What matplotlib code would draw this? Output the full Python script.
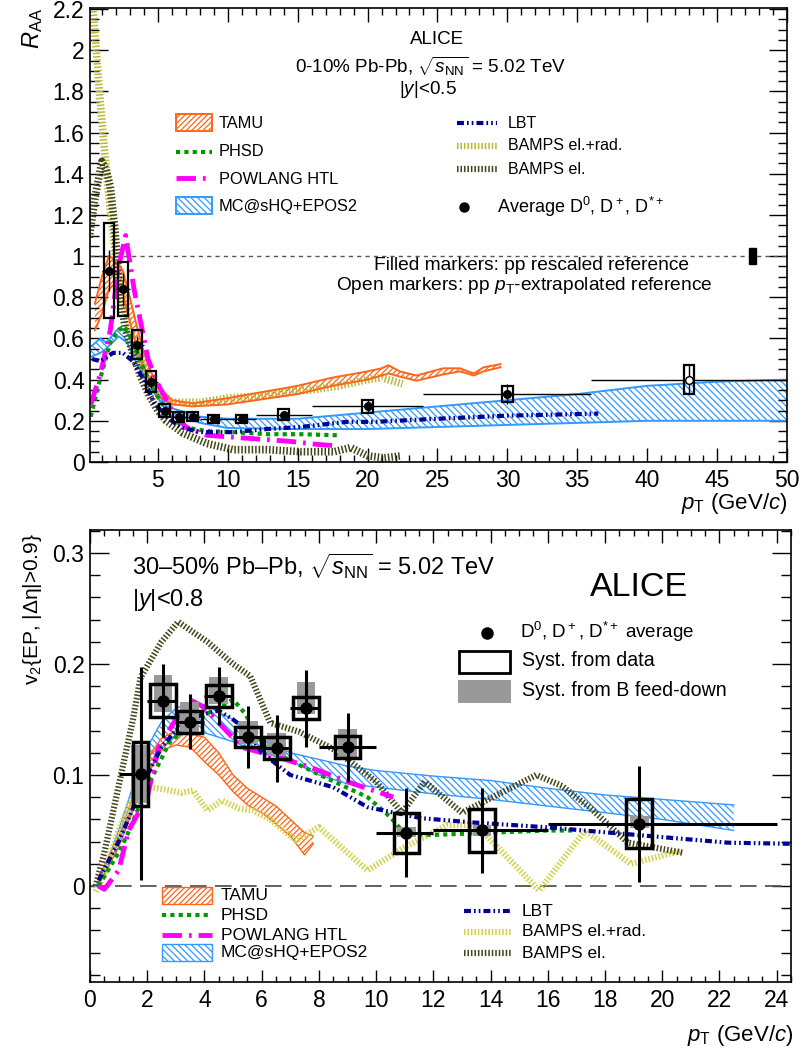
import matplotlib
matplotlib.use("Agg")
import matplotlib.pyplot as plt
from matplotlib.patches import Rectangle
from matplotlib.lines import Line2D
from matplotlib.ticker import MultipleLocator

plt.rcParams["font.family"] = ["Liberation Sans", "DejaVu Sans"]
plt.rcParams["mathtext.fontset"] = "custom"
plt.rcParams["mathtext.rm"] = "Liberation Sans"
plt.rcParams["mathtext.it"] = "Liberation Sans:italic"
plt.rcParams["mathtext.bf"] = "Liberation Sans:bold"
plt.rcParams["hatch.linewidth"] = 0.9
plt.rcParams["lines.scale_dashes"] = False

W, H = 802, 1050

# ---------------- R_AA, 0-10% ----------------
raa_pt = [1.5, 2.5, 3.5, 4.5, 5.5, 6.5, 7.5, 9, 11, 14, 20, 30, 43]
raa_lo = [1, 2, 3, 4, 5, 6, 7, 8, 10, 12, 16, 24, 36]
raa_hi = [2, 3, 4, 5, 6, 7, 8, 10, 12, 16, 24, 36, 50]
raa_val = [0.93, 0.84, 0.57, 0.39, 0.25, 0.22, 0.22, 0.21, 0.21, 0.23, 0.27, 0.33, 0.40]
raa_stat = [0.10, 0.08, 0.04, 0.03, 0.02, 0.015, 0.015, 0.015, 0.015, 0.02, 0.03, 0.05, 0.07]
raa_syst = [0.23, 0.13, 0.07, 0.05, 0.03, 0.025, 0.022, 0.02, 0.02, 0.025, 0.03, 0.04, 0.07]
raa_open = [False] * 12 + [True]
raa_norm = 0.04

tamu_raa_x = [0.5, 1.0, 1.5, 2.0, 2.5, 3.0, 3.5, 4.0, 4.5, 5.0, 6.0, 7.5, 10, 12.5, 15, 17.5,
              20, 21, 21.5, 22.3, 23.5, 25.4, 26.6, 27.6, 28.3, 29.5]
tamu_raa_hi = [0.77, 0.90, 1.00, 0.98, 0.93, 0.80, 0.66, 0.53, 0.44, 0.37, 0.30, 0.285, 0.31, 0.34,
               0.37, 0.41, 0.44, 0.455, 0.47, 0.44, 0.42, 0.455, 0.455, 0.43, 0.46, 0.475]
tamu_raa_lo = [0.64, 0.72, 0.84, 0.87, 0.82, 0.68, 0.56, 0.46, 0.38, 0.32, 0.28, 0.27, 0.28, 0.305,
               0.33, 0.37, 0.40, 0.42, 0.43, 0.415, 0.395, 0.425, 0.44, 0.42, 0.44, 0.46]

mcshq_raa_x = [0.2, 0.9, 1.3, 2.2, 2.8, 3.7, 4.7, 5.6, 8, 10, 15, 20, 25, 30, 35, 40, 45, 50]
mcshq_raa_hi = [0.56, 0.60, 0.58, 0.65, 0.63, 0.50, 0.37, 0.27, 0.22, 0.21, 0.21, 0.24, 0.27, 0.30,
                0.33, 0.37, 0.39, 0.40]
mcshq_raa_lo = [0.51, 0.53, 0.55, 0.61, 0.58, 0.45, 0.34, 0.25, 0.19, 0.165, 0.16, 0.16, 0.17, 0.18,
                0.19, 0.20, 0.20, 0.20]

phsd_raa_x = [0.2, 0.9, 1.6, 2.2, 2.6, 3.2, 4.0, 4.7, 5.6, 6.8, 8.5, 10.4, 12.8, 15.2, 17.8]
phsd_raa_y = [0.22, 0.41, 0.58, 0.64, 0.66, 0.59, 0.45, 0.35, 0.25, 0.17, 0.15, 0.145, 0.135, 0.135, 0.13]

powlang_raa_x = [0.2, 0.9, 1.6, 2.2, 2.7, 3.3, 4.3, 5.0, 6.0, 7.0, 8.5, 10.5, 12.5, 14.5, 16.5, 17.5]
powlang_raa_y = [0.28, 0.43, 0.64, 0.95, 1.10, 0.84, 0.50, 0.38, 0.25, 0.17, 0.13, 0.12, 0.11, 0.10,
                 0.085, 0.08]

lbt_raa_x = [0.3, 0.9, 1.8, 2.5, 3.2, 4.0, 4.7, 5.6, 6.6, 8, 10.4, 12.8, 15.2, 18.5, 20.5, 25, 30, 36.5]
lbt_raa_y = [0.50, 0.49, 0.53, 0.53, 0.49, 0.40, 0.29, 0.22, 0.17, 0.145, 0.145, 0.16, 0.17, 0.195,
             0.195, 0.21, 0.225, 0.235]

bampsr_raa_x = [0.37, 0.6, 0.87, 1.1, 1.37, 1.6, 1.8, 2.0, 2.5, 3.0, 3.5, 4.0, 4.5, 5.0, 6.0, 8.0,
                10, 12, 14, 16, 18, 20, 21, 22, 22.5]
bampsr_raa_y = [2.19, 2.0, 1.76, 1.58, 1.38, 1.22, 1.11, 0.98, 0.78, 0.64, 0.54, 0.46, 0.40, 0.35,
                0.29, 0.29, 0.31, 0.32, 0.34, 0.35, 0.37, 0.40, 0.41, 0.39, 0.38]

bampse_raa_x = [0.1, 0.5, 1.0, 1.3, 1.6, 1.93, 2.3, 2.7, 3.2, 3.8, 4.4, 5.0, 5.6, 6.8, 8.5, 10.4,
                12.8, 15.2, 17.6, 18.8, 20, 21.2, 22.4]
bampse_raa_y = [1.09, 1.28, 1.46, 1.42, 1.34, 1.13, 0.80, 0.64, 0.53, 0.41, 0.32, 0.25, 0.20, 0.14,
                0.09, 0.06, 0.06, 0.05, 0.05, 0.07, 0.03, 0.02, 0.03]

# ---------------- v2, 30-50% ----------------
v2_pt = [1.77, 2.55, 3.48, 4.5, 5.53, 6.53, 7.55, 9.0, 11.06, 13.7, 19.2]
v2_lo = [1, 2, 3, 4, 5, 6, 7, 8, 10, 12, 16]
v2_hi = [2, 3, 4, 5, 6, 7, 8, 10, 12, 16, 24]
v2_val = [0.101, 0.167, 0.148, 0.171, 0.134, 0.124, 0.160, 0.125, 0.048, 0.050, 0.056]
v2_stat = [0.096, 0.033, 0.025, 0.026, 0.028, 0.030, 0.035, 0.031, 0.040, 0.038, 0.052]
v2_syst = [0.029, 0.015, 0.010, 0.010, 0.009, 0.010, 0.010, 0.010, 0.018, 0.019, 0.022]
v2_fd_lo = [0.026, 0.010, 0.010, 0.007, 0.006, 0.007, 0.005, 0.009, 0.004, 0.005, 0.004]
v2_fd_hi = [0.026, 0.023, 0.018, 0.017, 0.015, 0.014, 0.024, 0.016, 0.005, 0.005, 0.007]
v2_boxw = [0.27, 0.45, 0.45, 0.45, 0.45, 0.45, 0.45, 0.45, 0.45, 0.45, 0.45]

tamu_v2_x = [0.3, 1.0, 1.5, 2.0, 2.5, 3.0, 3.5, 4.0, 4.5, 5.0, 5.5, 6.0, 6.5, 7.0, 7.5, 7.8]
tamu_v2_hi = [0.008, 0.045, 0.08, 0.115, 0.133, 0.140, 0.137, 0.134, 0.12, 0.10, 0.088, 0.08, 0.072,
              0.06, 0.048, 0.045]
tamu_v2_lo = [0.0, 0.035, 0.068, 0.10, 0.122, 0.127, 0.125, 0.112, 0.10, 0.085, 0.073, 0.066, 0.056,
              0.045, 0.028, 0.038]

mcshq_v2_x = [0.2, 0.5, 1.0, 1.5, 2.0, 2.5, 3.0, 3.5, 4.0, 5.0, 6.0, 7.0, 8.0, 9.0, 10, 12, 14, 16,
              18, 20, 22.5]
mcshq_v2_hi = [0.0, 0.015, 0.05, 0.09, 0.125, 0.148, 0.16, 0.165, 0.163, 0.15, 0.132, 0.12, 0.114,
               0.108, 0.104, 0.099, 0.095, 0.088, 0.082, 0.078, 0.073]
mcshq_v2_lo = [0.0, 0.01, 0.04, 0.07, 0.10, 0.125, 0.135, 0.138, 0.138, 0.13, 0.12, 0.113, 0.10,
               0.092, 0.089, 0.083, 0.078, 0.072, 0.066, 0.06, 0.05]

phsd_v2_x = [0.3, 1.0, 1.3, 2.0, 2.77, 3.2, 4.15, 5.0, 5.4, 6.1, 7.0, 8.2, 9.7, 10.5, 11.0, 12, 14,
             16, 17]
phsd_v2_y = [0.0, 0.03, 0.046, 0.089, 0.129, 0.139, 0.156, 0.168, 0.156, 0.125, 0.113, 0.098, 0.08,
             0.062, 0.047, 0.046, 0.048, 0.05, 0.05]

powlang_v2_x = [0.3, 0.5, 1.0, 1.35, 2.0, 2.4, 3.0, 3.55, 4.0, 5.3, 6.7, 7.7, 9.1, 10.6]
powlang_v2_y = [0.0, -0.003, 0.014, 0.05, 0.08, 0.125, 0.15, 0.167, 0.161, 0.125, 0.115, 0.107,
                0.093, 0.08]

lbt_v2_x = [0.3, 1.0, 1.5, 2.0, 2.5, 3.0, 3.5, 4.0, 4.5, 5.0, 5.5, 6.0, 6.5, 7.0, 8.5, 9.7, 11.6,
            13.5, 15.9, 19.1, 22.3, 24.5]
lbt_v2_y = [0.005, 0.04, 0.07, 0.10, 0.125, 0.14, 0.15, 0.155, 0.158, 0.15, 0.14, 0.12, 0.11, 0.10,
            0.089, 0.071, 0.061, 0.057, 0.053, 0.046, 0.039, 0.038]

bampsr_v2_x = [0.2, 0.5, 1.0, 1.5, 2.1, 2.6, 3.2, 3.6, 4.1, 4.6, 5.2, 5.7, 6.3, 7.2, 8.0, 9.7, 11,
               12.5, 13.5, 15.7, 17.3, 18.9, 20.7]
bampsr_v2_y = [-0.005, 0.01, 0.05, 0.08, 0.089, 0.087, 0.084, 0.086, 0.068, 0.077, 0.07, 0.068, 0.06,
               0.041, 0.053, 0.014, 0.035, 0.055, 0.055, -0.004, 0.05, 0.02, 0.032]

bampse_v2_x = [0.2, 0.5, 1.0, 1.5, 1.77, 2.5, 3.08, 4.1, 5.0, 5.6, 6.3, 7.3, 8.6, 10.0, 10.9, 11.7,
               13.0, 15.6, 16.5, 17.5, 18.8, 20.7]
bampse_v2_y = [0.0, 0.03, 0.09, 0.15, 0.188, 0.22, 0.238, 0.22, 0.2, 0.189, 0.147, 0.139, 0.122,
               0.094, 0.066, 0.094, 0.066, 0.10, 0.09, 0.07, 0.039, 0.03]

# ---------------- styles ----------------
C_TAMU = "#ff6619"
C_PHSD = "#009900"
C_POW = "#ff00ff"
C_MC = "#3399ff"
C_LBT = "#000099"
C_BR = "#b8b83a"
C_BR2 = "#d2d24a"
C_BE = "#444418"

style = {
    "phsd": dict(color=C_PHSD, lw=3.0, dashes=(3, 3), solid_capstyle="butt", dash_capstyle="butt"),
    "pow": dict(color=C_POW, lw=3.5, dashes=(14, 5, 2, 5), dash_capstyle="butt"),
    "lbt": dict(color=C_LBT, lw=3.0, dashes=(5, 2.2, 1.2, 2.2, 1.2, 2.2), dash_capstyle="butt"),
    "br": dict(color=C_BR, lw=5.5, dashes=(1.1, 1.4), dash_capstyle="butt"),
    "be": dict(color=C_BE, lw=5.5, dashes=(1.1, 1.4), dash_capstyle="butt"),
}


def fig_xy(px, py):
    return px / W, 1 - py / H


def band(ax, x, lo, hi, color, hatch, lw=1.4):
    ax.fill_between(x, lo, hi, facecolor="none", edgecolor=color, hatch=hatch, linewidth=0)
    ax.plot(x, hi, color=color, lw=lw)
    ax.plot(x, lo, color=color, lw=lw)


def style_axes(ax, xmaj, xmin, ymaj, ymin, ylen, xlen):
    ax.xaxis.set_major_locator(MultipleLocator(xmaj))
    ax.xaxis.set_minor_locator(MultipleLocator(xmin))
    ax.yaxis.set_major_locator(MultipleLocator(ymaj))
    ax.yaxis.set_minor_locator(MultipleLocator(ymin))
    ax.tick_params(axis="both", which="both", direction="in", top=True, right=True,
                   labelsize=16.5, width=1.0)
    ax.tick_params(axis="y", which="major", length=ylen)
    ax.tick_params(axis="y", which="minor", length=ylen / 2)
    ax.tick_params(axis="x", which="major", length=xlen)
    ax.tick_params(axis="x", which="minor", length=xlen / 2)
    ax.tick_params(axis="x", pad=5)
    ax.tick_params(axis="y", pad=4)
    for s in ax.spines.values():
        s.set_linewidth(1.2)


def legend_line(px0, px1, py, st):
    x0, y0 = fig_xy(px0, py)
    x1, _ = fig_xy(px1, py)
    fig.add_artist(Line2D([x0, x1], [y0, y0], transform=fig.transFigure, **st))


def legend_box(px0, py0, px1, py1, color, hatch=None, fill=None, lw=1.4):
    x0, y1 = fig_xy(px0, py0)
    x1, y0 = fig_xy(px1, py1)
    fig.add_artist(Rectangle((x0, y0), x1 - x0, y1 - y0, transform=fig.transFigure,
                             facecolor=fill if fill else "none", edgecolor=color,
                             hatch=hatch, lw=lw))


def label(px, py, s, size, ha="left", **kw):
    x, y = fig_xy(px, py)
    fig.text(x, y, s, fontsize=size, ha=ha, va="center", **kw)


fig = plt.figure(figsize=(W / 100, H / 100), dpi=100)
ax1 = fig.add_axes([90 / W, 1 - 462 / H, 697 / W, 454 / H])
ax2 = fig.add_axes([90 / W, 1 - 982 / H, 701 / W, 452 / H])

# ---------------- top panel ----------------
ax1.set_xlim(0.15, 50)
ax1.set_ylim(0, 2.205)
ax1.axhline(1, color="#555555", lw=1.0, dashes=(3, 3))

band(ax1, mcshq_raa_x, mcshq_raa_lo, mcshq_raa_hi, C_MC, "\\\\\\\\\\")
ax1.plot(bampsr_raa_x, bampsr_raa_y, **style["br"])
ax1.plot(bampse_raa_x, bampse_raa_y, **style["be"])
band(ax1, tamu_raa_x, tamu_raa_lo, tamu_raa_hi, C_TAMU, "//////")
ax1.plot(phsd_raa_x, phsd_raa_y, **style["phsd"])
ax1.plot(powlang_raa_x, powlang_raa_y, **style["pow"])
ax1.plot(lbt_raa_x, lbt_raa_y, **style["lbt"])

for x, v, s in zip(raa_pt, raa_val, raa_syst):
    ax1.add_patch(Rectangle((x - 0.38, v - s), 0.76, 2 * s, facecolor="none",
                            edgecolor="black", lw=1.6, zorder=5))
for x, v, st, lo, hi, op in zip(raa_pt, raa_val, raa_stat, raa_lo, raa_hi, raa_open):
    ax1.errorbar([x], [v], yerr=[st], xerr=[[x - lo], [hi - x]], fmt="o", ms=5.5,
                 color="black", mfc="white" if op else "black", mec="black",
                 elinewidth=1.0, capsize=0, zorder=6)
ax1.add_patch(Rectangle((47.25, 1 - raa_norm), 0.55, 2 * raa_norm, facecolor="black",
                        edgecolor="black", zorder=6))

style_axes(ax1, 5, 1, 0.2, 0.05, 13, 10)
ax1.set_yticks([0, 0.2, 0.4, 0.6, 0.8, 1, 1.2, 1.4, 1.6, 1.8, 2, 2.2])
ax1.set_yticklabels(["0", "0.2", "0.4", "0.6", "0.8", "1", "1.2", "1.4", "1.6", "1.8", "2", "2.2"])
ax1.set_xticks([5, 10, 15, 20, 25, 30, 35, 40, 45, 50])

label(437, 40, "ALICE", 13.5, ha="center")
label(431, 66, r"0-10% Pb-Pb, $\sqrt{s_{\rm NN}}$ = 5.02 TeV", 13.6, ha="center")
label(428, 90, r"|$y$|<0.5", 13.6, ha="center")
label(532, 265, "Filled markers: pp rescaled reference", 13.8, ha="center")
label(524, 286, r"Open markers: pp $p_{\rm T}$-extrapolated reference", 13.8, ha="center")

legend_box(176, 114, 212, 131, C_TAMU, hatch="//////")
label(219, 123, "TAMU", 11.8)
legend_line(176, 212, 152, style["phsd"])
label(219, 152, "PHSD", 11.8)
legend_line(176, 212, 178, style["pow"])
label(219, 179, "POWLANG HTL", 11.8)
legend_box(176, 197, 212, 214, C_MC, hatch="\\\\\\\\\\")
label(219, 206, "MC@sHQ+EPOS2", 11.8)
legend_line(457, 497, 123, style["lbt"])
label(508, 123, "LBT", 11.5)
legend_line(457, 497, 146, dict(style["br"], lw=4.5))
label(508, 146, "BAMPS el.+rad.", 11.5)
legend_line(457, 497, 169, dict(style["be"], lw=4.5))
label(508, 169, "BAMPS el.", 11.5)
x, y = fig_xy(464, 207)
fig.add_artist(Line2D([x], [y], marker="o", ms=6.5, color="black", transform=fig.transFigure))
label(497, 207, r"Average $\rm D^0$, $\rm D^+$, $\rm D^{*+}$", 13)

fig.text(*fig_xy(33, 8), r"$R_{\rm AA}$", fontsize=17, rotation=90, ha="center", va="top")
fig.text(*fig_xy(787, 503), r"$p_{\rm T}$ (GeV/$c$)", fontsize=16, ha="right", va="center")

# ---------------- bottom panel ----------------
ax2.set_xlim(0, 24.5)
ax2.set_ylim(-0.0865, 0.3207)
ax2.axhline(0, color="#555555", lw=1.3, dashes=(12, 6))

band(ax2, mcshq_v2_x, mcshq_v2_lo, mcshq_v2_hi, C_MC, "\\\\\\\\\\", lw=1.0)
band(ax2, tamu_v2_x, tamu_v2_lo, tamu_v2_hi, C_TAMU, "//////", lw=1.0)
ax2.plot(bampsr_v2_x, bampsr_v2_y, **dict(style["br"], lw=4.5, color=C_BR2))
ax2.plot(bampse_v2_x, bampse_v2_y, **dict(style["be"], lw=4.5))
ax2.plot(phsd_v2_x, phsd_v2_y, **style["phsd"])
ax2.plot(powlang_v2_x, powlang_v2_y, **style["pow"])
ax2.plot(lbt_v2_x, lbt_v2_y, **style["lbt"])

for x, v, fl, fh in zip(v2_pt, v2_val, v2_fd_lo, v2_fd_hi):
    ax2.add_patch(Rectangle((x - 0.33, v - fl), 0.66, fl + fh, facecolor="#999999",
                            edgecolor="none", zorder=4))
for x, v, s, bw in zip(v2_pt, v2_val, v2_syst, v2_boxw):
    ax2.add_patch(Rectangle((x - bw, v - s), 2 * bw, 2 * s, facecolor="none",
                            edgecolor="black", lw=2.5, zorder=5))
ax2.errorbar(v2_pt, v2_val, yerr=v2_stat,
             xerr=[[p - lo for p, lo in zip(v2_pt, v2_lo)], [hi - p for p, hi in zip(v2_pt, v2_hi)]],
             fmt="o", ms=8, color="black", elinewidth=2.2, capsize=0, zorder=6)

style_axes(ax2, 2, 0.5, 0.1, 0.02, 14, 9)
ax2.set_yticks([0, 0.1, 0.2, 0.3])
ax2.set_yticklabels(["0", "0.1", "0.2", "0.3"])

label(132, 566, r"30–50% Pb–Pb, $\sqrt{s_{\rm NN}}$ = 5.02 TeV", 17)
label(132, 600, r"|$y$|<0.8", 17)
label(639, 588, "ALICE", 24.5, ha="center")

x, y = fig_xy(487, 633)
fig.add_artist(Line2D([x], [y], marker="o", ms=8, color="black", transform=fig.transFigure))
label(520, 632, r"$\rm D^0$, $\rm D^+$, $\rm D^{*+}$ average", 13.5)
legend_box(459, 651, 510, 673, "black", lw=2.0)
label(522, 661, "Syst. from data", 14.1)
legend_box(459, 681, 510, 702, "#999999", fill="#999999")
label(522, 690, "Syst. from B feed-down", 14.1)

legend_box(162, 887, 212, 904, C_TAMU, hatch="//////", lw=1.0)
label(221, 896, "TAMU", 12.5)
legend_line(162, 212, 915, style["phsd"])
label(221, 916, "PHSD", 12.5)
legend_line(162, 212, 935, style["pow"])
label(221, 935, "POWLANG HTL", 12.5)
legend_box(162, 944, 212, 961, C_MC, hatch="\\\\\\\\\\", lw=1.0)
label(221, 953, "MC@sHQ+EPOS2", 12.5)
legend_line(464, 512, 911, style["lbt"])
label(522, 911, "LBT", 12.5)
legend_line(464, 512, 932, dict(style["br"], lw=4.5, color=C_BR2))
label(522, 932, "BAMPS el.+rad.", 12.5)
legend_line(464, 512, 953, dict(style["be"], lw=4.5))
label(522, 953, "BAMPS el.", 12.5)

fig.text(*fig_xy(33, 533), r"$\mathrm{v}_2${EP, |Δη|>0.9}", fontsize=15, rotation=90,
         ha="center", va="top")
fig.text(*fig_xy(793, 1035), r"$p_{\rm T}$ (GeV/$c$)", fontsize=16, ha="right", va="center")

fig.savefig("out.png", dpi=100)
